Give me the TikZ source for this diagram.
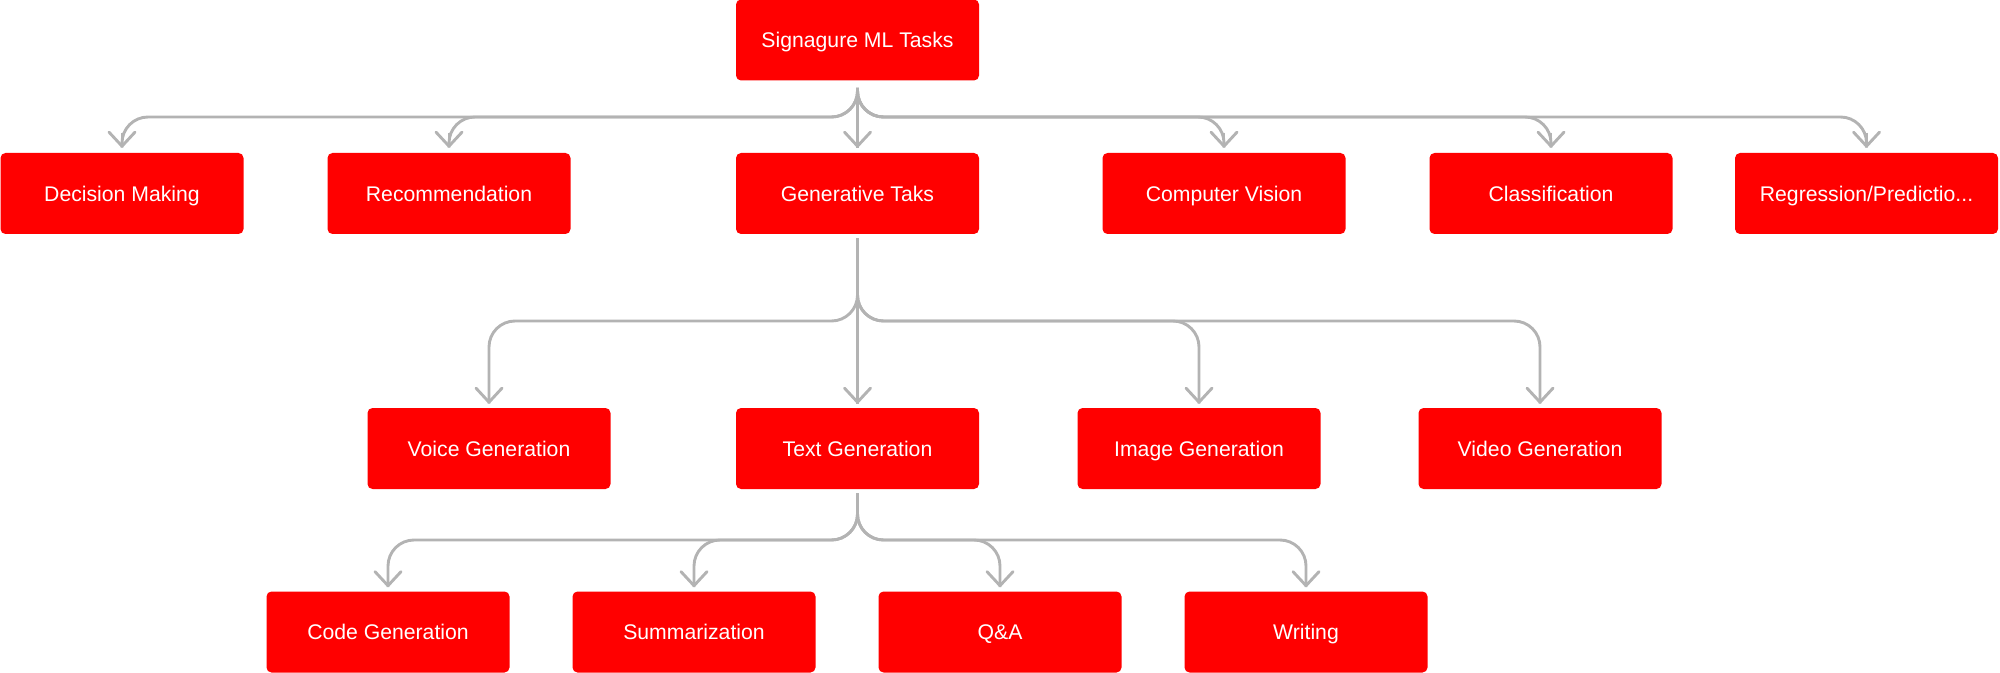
\documentclass[tikz,border=0pt]{standalone}
\usepackage{fontspec}
\setmainfont{Liberation Sans}
\usetikzlibrary{arrows.meta}
\definecolor{boxred}{HTML}{FF0000}
\definecolor{linegray}{HTML}{B3B3B3}
\tikzset{
  task/.style={fill=boxred, draw=none, rounded corners=2.5pt, text=white,
    minimum width=121.5pt, minimum height=40.5pt, inner sep=0pt,
    text height=9.6pt, text depth=2pt,
    font=\fontsize{10.6}{12}\selectfont},
  link/.style={draw=linegray, line width=1.45pt, rounded corners=13pt},
  tip/.style={draw=linegray, line width=1.45pt, -{Straight Barb[length=7pt,width=13pt,round]}}
}
\begin{document}
\begin{tikzpicture}[x=0.5pt, y=-0.5pt]
\useasboundingbox (0,0) rectangle (2000,673);
% nodes
\node[task] (root) at (857.5,40) {Signagure ML Tasks};
\node[task] (dm)  at (122,193.5) {Decision Making};
\node[task] (rec) at (449,193.5) {Recommendation};
\node[task] (gen) at (857.5,193.5) {Generative Taks};
\node[task] (cv)  at (1224,193.5) {Computer Vision};
\node[task] (cls) at (1551,193.5) {Classification};
\node[task, minimum width=131.5pt] (reg) at (1866.5,193.5) {Regression/Predictio...};
\node[task] (voice) at (489,448.5) {Voice Generation};
\node[task] (txt)   at (857.5,448.5) {Text Generation};
\node[task] (img)   at (1199,448.5) {Image Generation};
\node[task] (vid)   at (1540,448.5) {Video Generation};
\node[task] (code) at (388,632) {Code Generation};
\node[task] (sum)  at (694,632) {Summarization};
\node[task] (qa)   at (1000,632) {Q\&A};
\node[task] (wri)  at (1306,632) {Writing};
% bus levels
\coordinate (b1) at (0,117);
\coordinate (b2) at (0,321);
\coordinate (b3) at (0,540);
% row 1 -> row 2
\foreach \c in {dm,rec,cv,cls,reg}{
  \draw[link] ([yshift=-3.5pt]root.south) -- (root.south |- b1) -- (\c.north |- b1) -- ([yshift=2.5pt]\c.north);
  \draw[tip] ([yshift=10pt]\c.north) -- ([yshift=2.5pt]\c.north);
}
\draw[link] ([yshift=-3.5pt]root.south) -- ([yshift=2.5pt]gen.north);
\draw[tip] ([yshift=10pt]gen.north) -- ([yshift=2.5pt]gen.north);
% row 2 -> row 3
\foreach \c in {voice,img,vid}{
  \draw[link] ([yshift=-2pt]gen.south) -- (gen.south |- b2) -- (\c.north |- b2) -- ([yshift=2pt]\c.north);
  \draw[tip] ([yshift=10pt]\c.north) -- ([yshift=2pt]\c.north);
}
\draw[link] ([yshift=-2pt]gen.south) -- ([yshift=2pt]txt.north);
\draw[tip] ([yshift=10pt]txt.north) -- ([yshift=2pt]txt.north);
% row 3 -> row 4
\foreach \c in {code,sum,qa,wri}{
  \draw[link] ([yshift=-2pt]txt.south) -- (txt.south |- b3) -- (\c.north |- b3) -- ([yshift=2pt]\c.north);
  \draw[tip] ([yshift=10pt]\c.north) -- ([yshift=2pt]\c.north);
}
\end{tikzpicture}
\end{document}
